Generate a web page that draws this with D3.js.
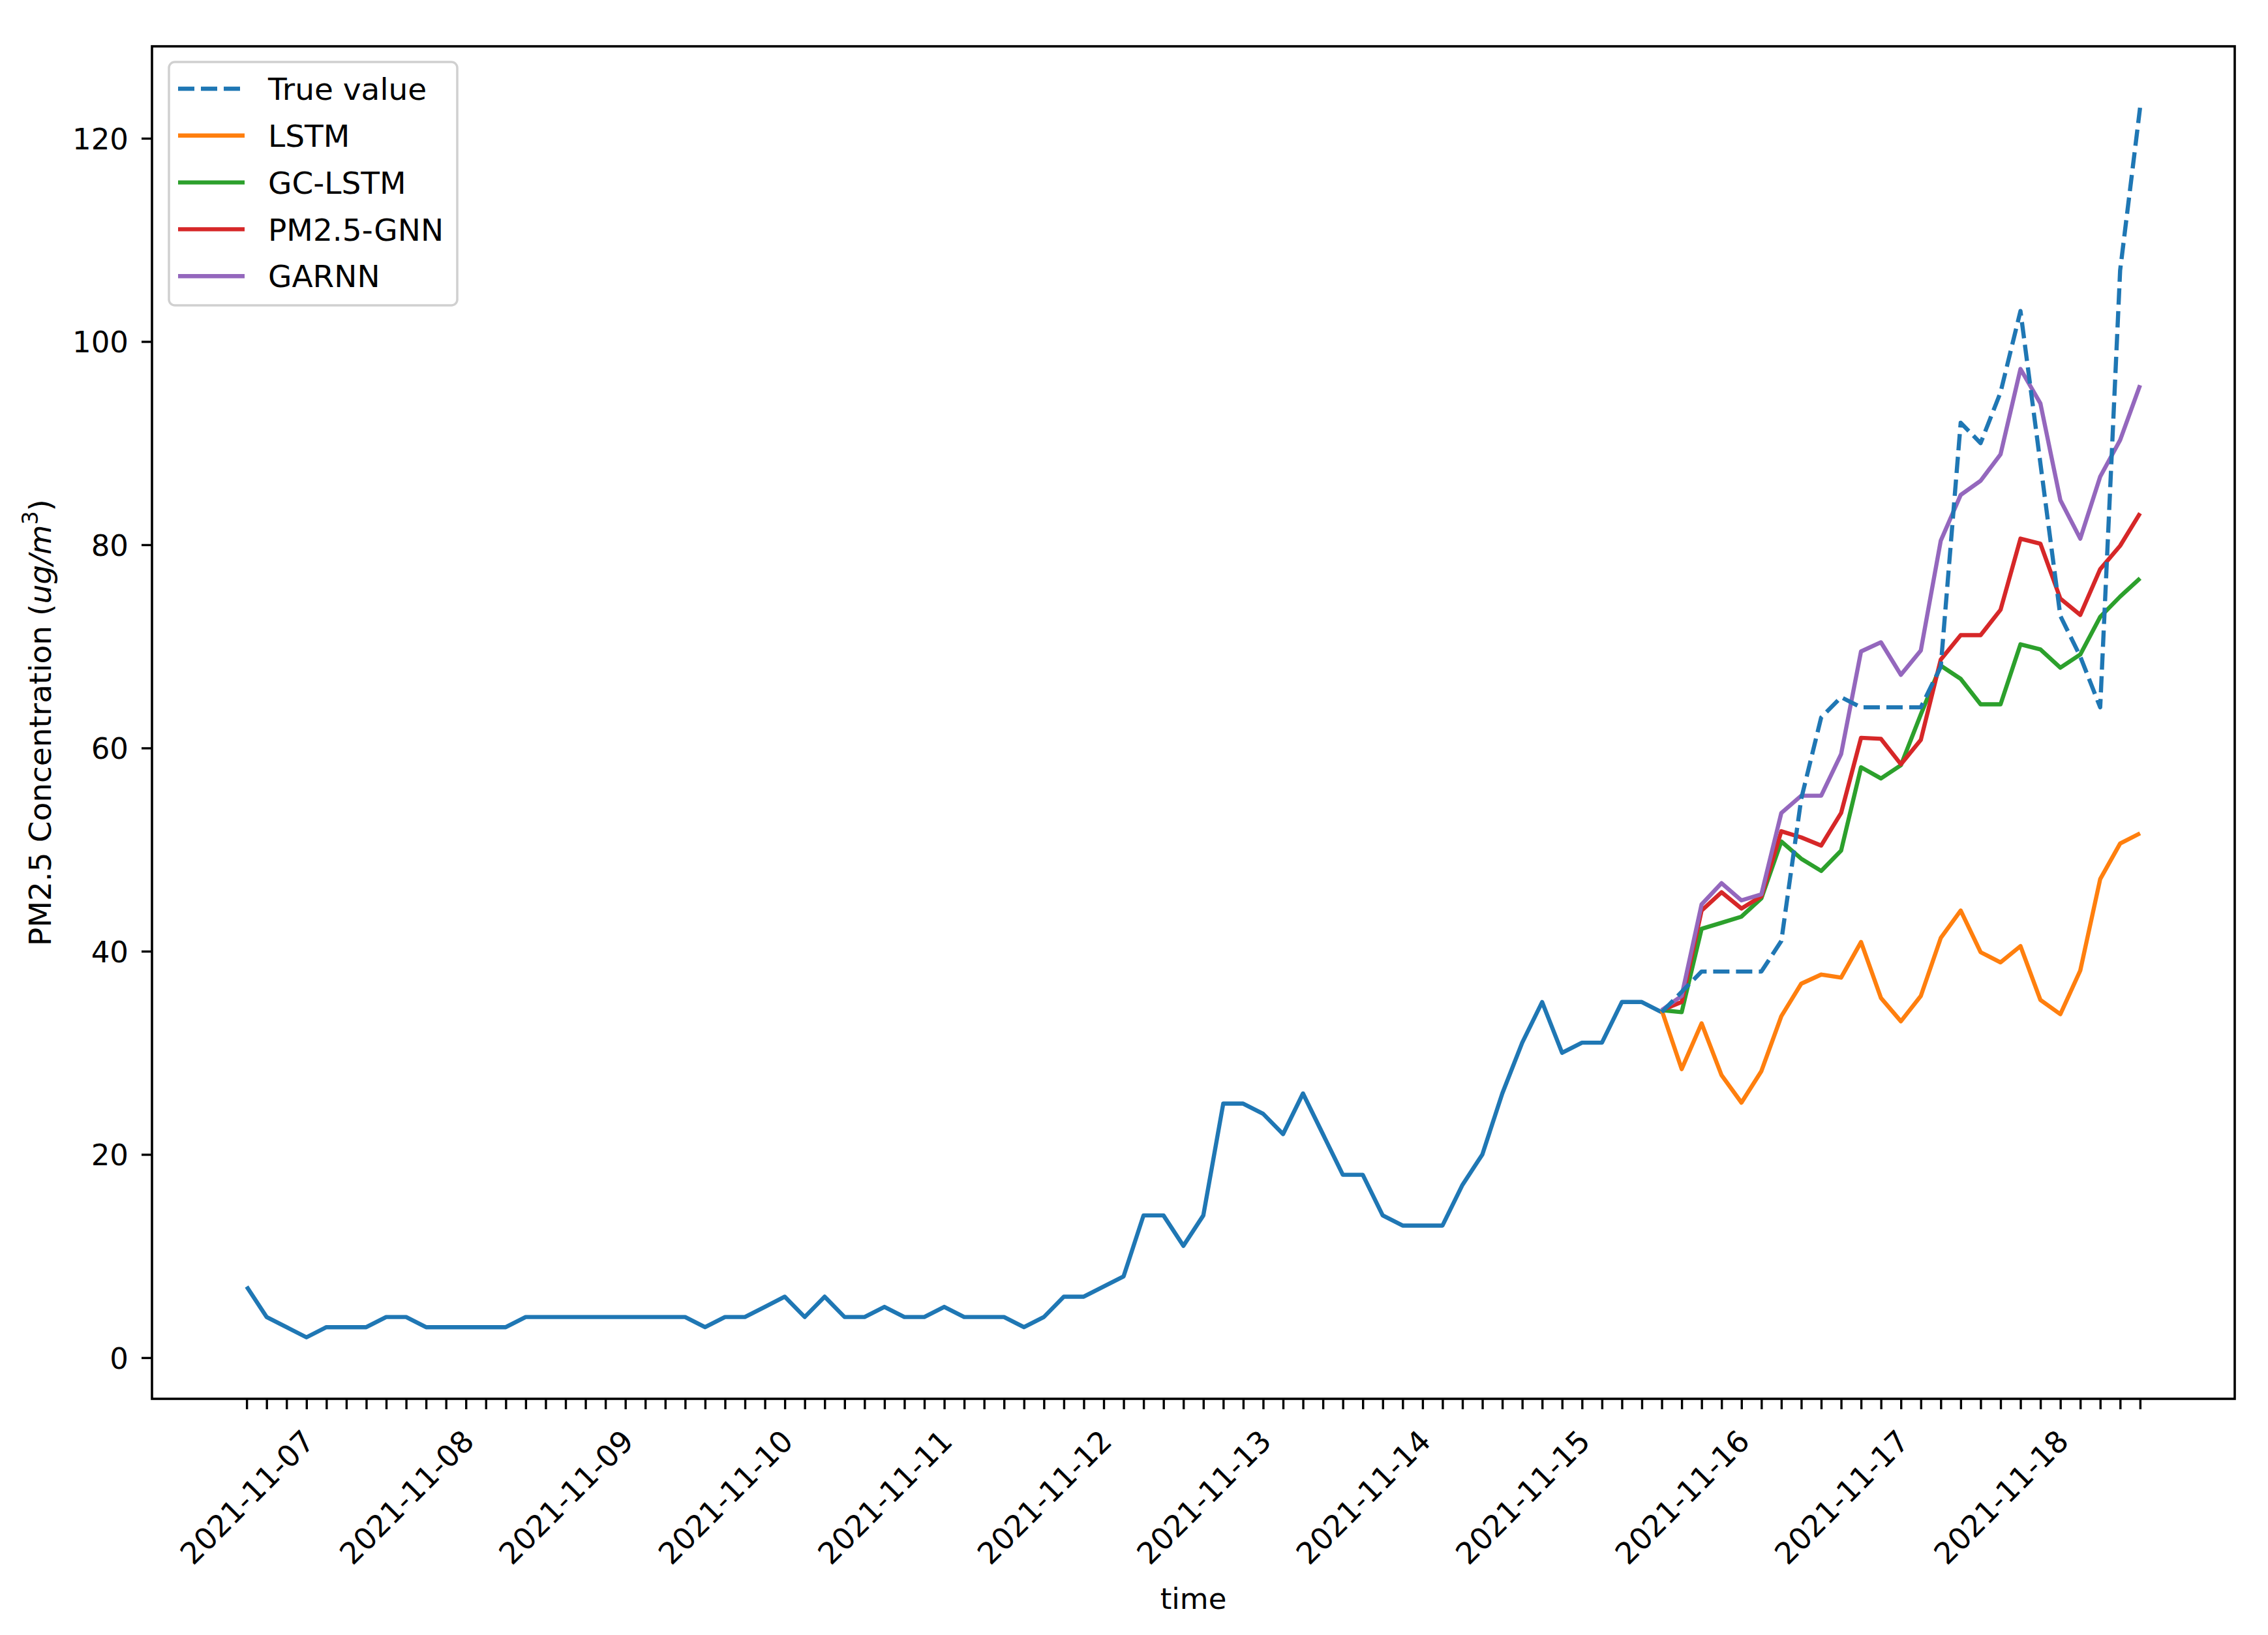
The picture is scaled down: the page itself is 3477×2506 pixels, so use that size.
<!DOCTYPE html>
<html><head><meta charset="utf-8">
<script src="https://cdn.jsdelivr.net/npm/d3@7"></script>
<style>
html,body{margin:0;padding:0;background:#fff;}
svg{display:block;}
text{font-family:"DejaVu Sans",sans-serif;fill:#000;}
</style></head><body>
<svg id="chart" width="3477" height="2506"></svg>
<script>
// ---------- data ----------
const dayLabels = ["2021-11-07","2021-11-08","2021-11-09","2021-11-10","2021-11-11","2021-11-12",
                   "2021-11-13","2021-11-14","2021-11-15","2021-11-16","2021-11-17","2021-11-18"];
const stepsPerDay = 8;          // 3-hour samples
const forecastStart = 71;       // index where forecasts branch off
const yTickValues = [0, 20, 40, 60, 80, 100, 120];

// observed history (index 0 .. 71)
const historyValues = [7,4,3,2,3,3,3,4,4,3, 3,3,3,3,4,4,4,4,4,4, 4,4,4,3,4,4,5,6,4,6,
                       4,4,5,4,4,5,4,4,4,3, 4,6,6,7,8,14,14,11,14,25, 25,24,22,26,22,18,18,14,13,13,
                       13,17,20,26,31,35,30,31,31,35, 35,34];
// forecast window (index 71 .. 95)
const trueValues   = [34,36,38,38,38,38,41,55,63,65,64,64,64,64,68,92,90,95,103,88,73,69,64,107,123];
const lstmValues   = [34.2,28.4,32.9,27.8,25.1,28.2,33.6,36.8,37.7,37.4,40.9,35.4,33.1,35.6,41.3,44.0,39.9,38.9,40.5,35.2,33.8,38.1,47.1,50.6,51.6];
const gcLstmValues = [34.2,34.0,42.2,42.8,43.4,45.2,50.8,49.1,47.9,49.9,58.1,57.0,58.3,63.3,68.1,66.8,64.3,64.3,70.2,69.7,67.9,69.2,72.9,74.9,76.7];
const pm25GnnValues= [34.2,35.0,44.0,45.8,44.2,45.4,51.8,51.2,50.4,53.6,61.0,60.9,58.4,60.8,68.7,71.1,71.1,73.6,80.6,80.1,74.7,73.1,77.6,79.9,83.1];
const garnnValues  = [34.2,35.6,44.6,46.7,45.0,45.6,53.6,55.3,55.3,59.4,69.5,70.4,67.2,69.6,80.4,84.9,86.3,88.9,97.3,93.9,84.4,80.6,86.7,90.3,95.7];

const seriesNames  = ["True value","LSTM","GC-LSTM","PM2.5-GNN","GARNN"];
const seriesColors = ["#1f77b4","#ff7f0e","#2ca02c","#d62728","#9467bd"];

// ---------- layout ----------
const svg = d3.select("#chart");
const L = 233, R = 3426, T = 71, B = 2144;
const tickFont = 45, xTickFont = 46, ylabelFont = 47, xlabelFont = 45, legendFont = 47;
const tickLen = 16, lw = 6.4;

const nPts = historyValues.length + trueValues.length - 1;
const xPad = 0.05 * (nPts - 1);
const x = d3.scaleLinear().domain([-xPad, nPts - 1 + xPad]).range([L, R]);

const allVals = historyValues.concat(trueValues, lstmValues, gcLstmValues, pm25GnnValues, garnnValues);
const yMin = d3.min(allVals), yMax = d3.max(allVals);
const yPad = 0.05 * (yMax - yMin);
const y = d3.scaleLinear().domain([yMin - yPad, yMax + yPad]).range([B, T]);

const line = d3.line().x(d => x(d.i)).y(d => y(d.v)).curve(d3.curveLinear);
const hist = historyValues.map((v, i) => ({i, v}));
const fc = arr => arr.map((v, k) => ({i: forecastStart + k, v}));

// ---------- axes ----------
const xAxis = d3.axisBottom(x)
  .tickValues(d3.range(nPts))
  .tickSize(tickLen)
  .tickPadding(15)
  .tickFormat(i => i % stepsPerDay === 0 ? dayLabels[i / stepsPerDay] : "");
const gx = svg.append("g").attr("transform", `translate(0,${B})`).call(xAxis);
gx.select(".domain").remove();
gx.selectAll(".tick line").attr("stroke", "#000").attr("stroke-width", 3.4);
gx.selectAll(".tick text").attr("font-size", xTickFont).attr("font-family", "DejaVu Sans")
  .each(function() {
    const t = d3.select(this);
    if (!t.text()) return;
    const w = this.getComputedTextLength();
    const inkH = xTickFont * 0.73;
    const boxH = (w + inkH) * Math.SQRT1_2;
    t.attr("text-anchor", "middle").attr("x", 0).attr("y", 0).attr("dy", "0.365em")
     .attr("transform", `translate(0,${44 + boxH / 2}) rotate(-45)`);
  });

const yAxis = d3.axisLeft(y).tickValues(yTickValues).tickSize(tickLen).tickPadding(20);
const gy = svg.append("g").attr("transform", `translate(${L},0)`).call(yAxis);
gy.select(".domain").remove();
gy.selectAll(".tick line").attr("stroke", "#000").attr("stroke-width", 3.4);
gy.selectAll(".tick text").attr("font-size", tickFont).attr("font-family", "DejaVu Sans").attr("dy", "0.36em");

// axis labels
svg.append("text").attr("x", (L + R) / 2).attr("y", 2466).attr("text-anchor", "middle")
  .attr("font-size", xlabelFont).text("time");

const yl = svg.append("text").attr("text-anchor", "middle").attr("font-size", ylabelFont)
  .attr("transform", `translate(78,${(T + B) / 2}) rotate(-90)`);
yl.append("tspan").text("PM2.5 Concentration (");
yl.append("tspan").attr("font-style", "italic").text("ug/m");
yl.append("tspan").attr("font-size", ylabelFont * 0.7).attr("dy", -ylabelFont * 0.42).text("3");
yl.append("tspan").attr("dy", ylabelFont * 0.42).text(")");

// ---------- lines ----------
const gl = svg.append("g").attr("fill", "none").attr("stroke-linejoin", "round");
gl.append("path").datum(hist).attr("d", line).attr("stroke", seriesColors[0]).attr("stroke-width", lw);
const preds = [lstmValues, gcLstmValues, pm25GnnValues, garnnValues];
preds.forEach((arr, k) => {
  gl.append("path").datum(fc(arr)).attr("d", line)
    .attr("stroke", seriesColors[k + 1]).attr("stroke-width", lw);
});
gl.append("path").datum(fc(trueValues)).attr("d", line)
  .attr("stroke", seriesColors[0]).attr("stroke-width", lw).attr("stroke-dasharray", "25 10");

// spines
svg.append("rect").attr("x", L).attr("y", T).attr("width", R - L).attr("height", B - T)
  .attr("fill", "none").attr("stroke", "#000").attr("stroke-width", 3.6);

// ---------- legend ----------
const lg = svg.append("g");
lg.append("rect").attr("x", 259).attr("y", 95).attr("width", 442).attr("height", 373)
  .attr("rx", 9).attr("fill", "#fff").attr("fill-opacity", 0.8)
  .attr("stroke", "#d0d0d0").attr("stroke-width", 3.5);
seriesNames.forEach((name, k) => {
  const cy = 136 + k * 71.8;
  const ln = lg.append("line").attr("x1", 273).attr("x2", 375).attr("y1", cy).attr("y2", cy)
    .attr("stroke", seriesColors[k]).attr("stroke-width", lw);
  if (k === 0) ln.attr("stroke-dasharray", "25 10");
  lg.append("text").attr("x", 411).attr("y", cy).attr("dy", "0.365em")
    .attr("font-size", legendFont).text(name);
});
</script>
</body></html>
